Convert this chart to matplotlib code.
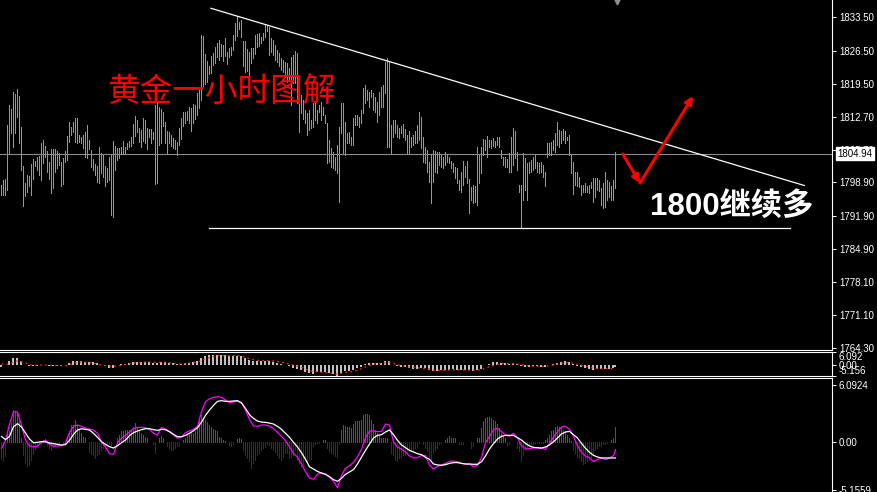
import numpy as np
import matplotlib
matplotlib.use('Agg')
import matplotlib.pyplot as plt
import matplotlib.transforms as mtransforms

plt.rcParams['font.family'] = ['Liberation Sans', 'Noto Sans CJK SC', 'DejaVu Sans']

# ---- price bars (1 hour gold), high / low per bar ----
bar_high = [
    1798.4, 1799.4, 1799.6, 1810.9, 1815.1, 1814.3, 1817.8, 1817.4, 1818.5, 1817.0,
    1810.5, 1802.4, 1798.8, 1800.5, 1800.3, 1802.8, 1803.8, 1803.4, 1804.2, 1804.4,
    1807.2, 1807.8, 1806.5, 1805.5, 1803.2, 1805.9, 1805.9, 1805.9, 1805.5, 1805.1,
    1803.2, 1804.0, 1805.5, 1808.6, 1811.6, 1810.5, 1811.6, 1812.4, 1812.4, 1808.8,
    1808.4, 1808.8, 1809.4, 1810.9, 1807.8, 1805.7, 1803.8, 1802.8, 1802.4, 1806.3,
    1805.1, 1804.9, 1802.4, 1801.9, 1804.2, 1804.9, 1807.6, 1806.5, 1806.1, 1806.1,
    1806.3, 1807.6, 1806.3, 1807.2, 1807.6, 1808.4, 1811.1, 1812.8, 1812.0, 1810.3,
    1809.9, 1812.4, 1812.0, 1810.3, 1810.1, 1810.1, 1809.4, 1815.1, 1815.5, 1814.7,
    1814.3, 1813.7, 1811.6, 1809.7, 1809.4, 1808.8, 1808.2, 1807.8, 1807.4, 1810.3,
    1812.4, 1813.7, 1813.7, 1813.9, 1814.7, 1814.5, 1815.3, 1815.1, 1817.6, 1818.3,
    1829.8, 1829.6, 1825.8, 1824.3, 1823.3, 1825.4, 1826.0, 1827.3, 1828.1, 1828.7,
    1827.9, 1827.7, 1829.2, 1826.2, 1827.1, 1827.3, 1829.8, 1832.3, 1833.8, 1832.5,
    1832.9, 1828.5, 1828.5, 1826.9, 1826.2, 1827.1, 1827.1, 1829.8, 1830.0, 1830.2,
    1829.4, 1830.2, 1832.1, 1831.9, 1831.5, 1829.2, 1828.7, 1827.7, 1826.6, 1826.0,
    1825.0, 1824.6, 1824.1, 1823.9, 1822.9, 1825.2, 1825.6, 1826.4, 1826.0, 1821.4,
    1817.2, 1816.2, 1814.1, 1813.4, 1814.1, 1812.0, 1815.5, 1815.5, 1814.1, 1815.1,
    1815.8, 1814.7, 1813.0, 1811.4, 1807.8, 1806.1, 1805.3, 1804.2, 1806.8, 1810.5,
    1815.5, 1815.5, 1811.6, 1809.3, 1809.4, 1808.4, 1812.4, 1813.0, 1813.0, 1812.6,
    1814.1, 1818.7, 1819.3, 1818.3, 1817.8, 1818.3, 1817.6, 1816.8, 1815.8, 1817.8,
    1818.9, 1819.3, 1824.1, 1825.0, 1824.1, 1810.9, 1812.0, 1812.0, 1810.9, 1810.3,
    1810.7, 1811.1, 1810.1, 1808.8, 1809.7, 1808.4, 1808.8, 1809.7, 1810.9, 1813.7,
    1812.6, 1808.4, 1806.3, 1805.7, 1803.2, 1804.7, 1805.7, 1805.5, 1805.3, 1805.3,
    1804.7, 1804.2, 1805.3, 1804.7, 1804.2, 1803.4, 1803.0, 1802.1, 1801.9, 1799.4,
    1801.1, 1803.4, 1802.4, 1803.4, 1799.6, 1798.0, 1798.4, 1798.2, 1806.3, 1804.7,
    1806.3, 1808.0, 1807.8, 1808.6, 1807.8, 1807.8, 1808.2, 1807.6, 1808.4, 1808.4,
    1805.7, 1804.2, 1804.2, 1803.8, 1805.1, 1808.4, 1810.3, 1809.7, 1805.3, 1798.4,
    1798.4, 1805.1, 1804.0, 1803.0, 1803.2, 1803.6, 1804.2, 1804.7, 1803.2, 1803.0,
    1803.2, 1802.6, 1801.1, 1807.2, 1807.2, 1807.4, 1807.8, 1809.3, 1811.6, 1809.9,
    1809.7, 1810.1, 1809.7, 1808.4, 1808.8, 1804.7, 1803.2, 1801.1, 1801.1, 1800.0,
    1798.4, 1798.4, 1798.8, 1798.2, 1798.4, 1799.0, 1799.8, 1799.8, 1799.8, 1799.4,
    1797.7, 1798.8, 1801.1, 1799.4, 1799.0, 1798.2, 1799.4, 1805.3,
]
bar_low = [
    1796.3, 1796.3, 1796.3, 1797.3, 1805.1, 1809.3, 1806.3, 1809.3, 1812.6, 1807.2,
    1801.5, 1794.0, 1796.1, 1796.9, 1798.2, 1796.3, 1799.6, 1802.4, 1801.5, 1800.5,
    1799.4, 1803.0, 1804.2, 1801.1, 1799.6, 1796.7, 1797.7, 1801.1, 1801.9, 1802.6,
    1798.2, 1798.6, 1803.2, 1803.6, 1807.4, 1808.8, 1809.4, 1807.4, 1807.2, 1807.4,
    1807.2, 1806.1, 1804.2, 1804.0, 1805.9, 1802.1, 1801.5, 1800.5, 1799.0, 1798.8,
    1800.9, 1800.0, 1798.2, 1799.0, 1799.4, 1792.1, 1791.7, 1801.5, 1803.6, 1804.0,
    1804.9, 1805.1, 1805.1, 1805.9, 1806.3, 1806.5, 1807.2, 1808.6, 1809.4, 1807.4,
    1806.3, 1807.6, 1807.2, 1805.9, 1808.4, 1807.2, 1808.0, 1798.6, 1798.8, 1806.8,
    1807.2, 1810.7, 1807.2, 1805.1, 1807.2, 1806.5, 1806.1, 1805.9, 1804.7, 1806.8,
    1808.0, 1810.7, 1811.4, 1812.0, 1811.4, 1809.7, 1811.4, 1812.2, 1813.0, 1814.5,
    1816.2, 1819.1, 1819.5, 1819.9, 1821.6, 1821.8, 1823.5, 1823.9, 1825.2, 1824.6,
    1825.4, 1824.3, 1825.4, 1823.7, 1825.2, 1825.6, 1826.6, 1828.7, 1829.6, 1831.0,
    1829.4, 1823.3, 1822.0, 1822.2, 1820.4, 1823.9, 1825.0, 1825.8, 1827.3, 1827.5,
    1828.1, 1828.7, 1829.4, 1830.6, 1825.6, 1826.2, 1825.6, 1824.6, 1824.1, 1823.3,
    1822.5, 1822.0, 1821.0, 1819.9, 1820.4, 1815.1, 1819.7, 1819.7, 1815.5, 1809.4,
    1813.4, 1812.2, 1811.4, 1808.8, 1809.9, 1810.3, 1810.5, 1812.0, 1811.4, 1813.7,
    1812.0, 1813.0, 1811.4, 1803.0, 1803.2, 1802.1, 1801.9, 1801.5, 1800.9, 1794.8,
    1809.3, 1805.1, 1804.7, 1807.2, 1807.2, 1806.8, 1806.8, 1810.9, 1810.9, 1810.5,
    1811.4, 1813.4, 1815.5, 1816.2, 1814.7, 1816.8, 1814.1, 1813.7, 1811.6, 1813.0,
    1814.7, 1814.7, 1817.6, 1806.3, 1806.3, 1805.1, 1808.4, 1809.3, 1808.4, 1808.2,
    1809.3, 1808.4, 1807.8, 1805.1, 1805.1, 1806.3, 1806.8, 1807.2, 1807.2, 1807.8,
    1806.1, 1803.2, 1803.0, 1801.1, 1799.0, 1794.6, 1799.0, 1801.1, 1800.9, 1802.6,
    1802.1, 1801.9, 1802.6, 1803.2, 1803.0, 1801.9, 1801.1, 1799.8, 1798.8, 1797.3,
    1796.9, 1798.4, 1800.0, 1798.8, 1792.5, 1795.2, 1794.6, 1794.8, 1794.2, 1798.8,
    1800.9, 1804.7, 1805.7, 1804.2, 1806.3, 1806.1, 1806.5, 1806.3, 1806.8, 1806.3,
    1804.0, 1802.6, 1802.1, 1802.1, 1801.1, 1801.1, 1802.6, 1804.0, 1801.5, 1796.9,
    1789.6, 1795.2, 1797.3, 1795.2, 1800.9, 1801.1, 1801.5, 1801.9, 1801.1, 1800.9,
    1801.1, 1800.0, 1798.2, 1804.2, 1804.7, 1804.7, 1805.7, 1805.3, 1806.8, 1806.3,
    1807.2, 1807.8, 1807.2, 1807.8, 1804.7, 1800.9, 1796.5, 1798.4, 1798.2, 1798.0,
    1796.3, 1796.9, 1796.9, 1796.9, 1796.7, 1797.7, 1794.8, 1795.9, 1797.3, 1797.1,
    1794.2, 1793.6, 1793.8, 1795.2, 1795.9, 1795.2, 1795.2, 1797.7,
]
last_price = 1804.94

# ---- indicator window: histogram per bar ----
osma = [
    -1.9, -2.1, -1.5, 0.8, 1.2, 2.0, 3.4, 3.3, 3.1, 2.2,
    0.4, -1.4, -2.3, -2.6, -2.5, -2.0, -1.3, -0.9, -0.5, -0.3,
    -0.2, 0.2, 0.25, -0.35, -0.7, -0.9, -0.6, -0.4, -0.2, -0.25,
    0.0, -0.15, -0.15, 0.5, 1.2, 1.8, 1.8, 2.3, 1.8, 1.4,
    0.9, 0.5, 0.4, 0.0, -1.1, -1.3, -1.4, -1.8, -1.4, -1.3,
    -0.9, -0.7, -0.9, -0.5, -0.2, -0.4, 0.0, 0.0, 0.35, 0.7,
    1.1, 1.2, 1.25, 1.25, 1.25, 1.3, 1.6, 2.0, 1.45, 1.25,
    0.9, 0.7, 0.5, 0.35, 0.0, 0.0, -0.2, -1.25, 0.0, 0.35,
    0.6, 0.35, 0.0, -0.5, -0.7, -0.9, -0.9, -0.7, -0.5, -0.45,
    0.0, 0.2, 0.45, 0.7, 0.8, 0.9, 0.95, 1.1, 1.5, 2.3,
    2.9, 2.4, 2.3, 2.15, 1.8, 1.6, 1.4, 1.25, 1.1, 0.55,
    0.35, 0.2, 0.1, 0.0, -0.35, -0.5, -0.2, 0.0, 0.25, 0.35,
    0.3, -0.9, -1.4, -1.8, -2.1, -2.8, -2.3, -2.0, -1.4, -1.25,
    -0.9, -0.7, -0.55, -0.2, -0.35, -0.7, -0.9, -1.1, -1.4, -1.8,
    -2.0, -1.6, -1.25, -1.25, -1.8, -1.6, -1.4, -0.9, -2.0, -2.3,
    -2.7, -2.5, -2.0, -2.15, -2.0, -1.9, -0.5, -0.3, -0.15, -0.15,
    0.0, 0.2, 0.2, -0.7, -1.0, -1.2, -1.3, -1.5, -1.6, -0.3,
    1.3, 1.75, 1.65, 1.55, 1.55, 1.45, 1.9, 2.2, 2.25, 2.2,
    2.35, 2.85, 3.0, 3.0, 2.85, 2.35, 1.9, 1.3, 0.95, 0.7,
    0.45, 0.4, 0.35, 0.45, 0.0, -1.2, -1.45, -1.95, -2.05, -1.75,
    -1.6, -1.4, -1.4, -1.2, -1.05, -0.85, -0.95, -0.7, -0.6, -0.15,
    0.0, -0.3, -0.7, -1.05, -1.6, -2.1, -1.2, -0.85, -0.7, -0.3,
    -0.15, 0.0, 0.2, 0.4, 0.6, 0.45, 0.4, 0.35, 0.0, -0.3,
    -0.3, -0.25, 0.0, 0.0, 0.0, -0.7, -0.5, 0.0, 0.35, 0.45,
    1.45, 2.25, 2.55, 2.7, 2.7, 2.55, 2.35, 2.2, 1.85, 1.45,
    0.95, 0.6, 0.4, -0.5, -0.3, 0.0, 0.0, 0.0, -0.7, -1.05,
    -2.1, -1.4, -0.85, -0.7, -0.5, -0.3, -0.25, -0.15, -0.15, -0.15,
    -0.15, -0.15, 0.2, 0.45, 0.75, 1.1, 1.3, 1.55, 1.65, 1.55,
    1.45, 1.3, 1.1, 0.75, 0.4, 0.1, -0.85, -1.2, -1.6, -1.75,
    -2.1, -2.4, -2.3, -2.1, -1.95, -1.6, -1.2, -0.85, -0.7, -0.5,
    -0.5, -0.3, -0.25, -0.15, 0.0, 0.2, 0.4, 1.55,
]

# ---- MACD main (magenta) and signal (white), read every second bar + last bar ----
line_bars = list(range(0, 308, 2)) + [307]
macd_main = [
    -0.72, 0.13, 1.88, 3.23, 3.2, 1.79, 0.18, -0.47, -0.54, -0.47,
    -0.04, 0.14, -0.29, -0.5, -0.47, -0.43, -0.14, 1.0, 1.68, 1.79,
    1.65, 1.47, 1.33, 1.25, 0.9, -0.04, -0.57, -1.29, -1.36, -0.14,
    0.39, 0.68, 1.04, 1.4, 1.54, 1.54, 1.5, 1.33, 0.9, 0.72,
    1.54, 1.36, 1.08, 0.72, 0.36, 0.5, 0.97, 1.15, 1.33, 1.65,
    3.23, 4.3, 4.62, 4.77, 4.84, 4.77, 4.48, 4.16, 4.3, 4.37,
    4.23, 3.37, 2.4, 1.68, 1.65, 1.79, 1.79, 1.68, 1.4, 1.0,
    0.57, 0.11, -0.54, -1.25, -1.68, -2.4, -3.23, -3.9, -4.05, -3.5,
    -3.37, -3.47, -3.83, -4.26, -4.95, -3.62, -2.86, -2.58, -2.22, -1.61,
    -0.82, 0.43, 1.15, 1.15, 1.08, 1.11, 1.9, 1.8, -0.03, -0.57,
    -0.82, -1.11, -1.54, -1.75, -1.72, -1.47, -1.5, -2.5, -2.94, -2.65,
    -2.5, -2.33, -2.11, -2.08, -2.15, -2.36, -2.4, -2.4, -2.68, -2.54,
    -1.68, -0.1, 0.58, 1.29, 1.44, 1.08, 0.72, 0.58, 0.9, 0.4,
    -0.43, -0.78, -0.75, -0.68, -0.68, -0.71, -0.82, -0.18, 0.5, 1.08,
    1.58, 1.65, 1.33, 0.58, -0.46, -1.11, -1.57, -1.72, -2.15, -1.9,
    -1.75, -1.93, -1.75, -1.5, -0.86,
]
macd_signal = [
    0.57, 0.22, 0.57, 1.61, 1.94, 1.58, 0.93, 0.29, -0.11, -0.07,
    0.0, 0.0, -0.14, -0.22, -0.29, -0.36, -0.32, 0.14, 0.79, 1.25,
    1.4, 1.33, 1.25, 0.9, 0.47, 0.0, -0.29, -0.54, -0.68, -0.43,
    -0.11, 0.18, 0.65, 0.97, 1.15, 1.29, 1.4, 1.4, 1.29, 1.22,
    1.33, 1.29, 1.08, 0.79, 0.54, 0.54, 0.68, 0.9, 1.18, 1.5,
    2.11, 2.83, 3.4, 3.9, 4.34, 4.41, 4.34, 4.34, 4.37, 4.41,
    4.16, 3.58, 2.9, 2.51, 2.22, 2.11, 2.08, 2.0, 1.9, 1.65,
    1.33, 0.9, 0.47, -0.07, -0.57, -1.18, -1.9, -2.7, -2.94, -3.2,
    -3.37, -3.51, -3.76, -4.08, -4.26, -3.94, -3.51, -3.26, -3.0, -2.4,
    -1.65, -0.93, -0.25, 0.4, 0.68, 0.76, 1.04, 1.26, 0.76, 0.15,
    -0.35, -0.64, -0.93, -1.11, -1.29, -1.39, -1.68, -1.9, -2.4, -2.5,
    -2.54, -2.47, -2.33, -2.25, -2.25, -2.33, -2.4, -2.4, -2.43, -2.43,
    -2.15, -1.54, -0.78, -0.21, 0.29, 0.58, 0.68, 0.68, 0.68, 0.43,
    0.18, -0.18, -0.46, -0.61, -0.64, -0.68, -0.57, -0.35, 0.0, 0.4,
    0.83, 1.04, 1.11, 0.76, 0.4, -0.18, -0.71, -1.14, -1.47, -1.65,
    -1.75, -1.75, -1.75, -1.75, -1.75,
]

# ---- drawn objects: (bar, price) anchors ----
trend_down = [(104.75, 1835.38), (401.4, 1798.27)]
support = [(103.85, 1789.43), (394.35, 1789.43)]
arrow_pts = [(310.6, 1804.87), (319.25, 1798.79), (345.75, 1817.01)]

main_ticks = [1833.50, 1826.50, 1819.50, 1812.70, 1805.70, 1798.90,
              1791.90, 1784.90, 1778.10, 1771.10, 1764.30]

W, H = 878, 492
fig = plt.figure(figsize=(W / 100, H / 100), dpi=100, facecolor='black')
ax_main = fig.add_axes([0, 142 / H, 832 / W, 350 / H])
ax_mini = fig.add_axes([0, 116 / H, 832 / W, 24 / H])
ax_low = fig.add_axes([0, 0, 832 / W, 114 / H])

for ax in (ax_main, ax_mini, ax_low):
    ax.set_facecolor('black')
    ax.set_xlim(-0.75, 415.25)
    ax.set_xticks([])
    ax.spines['left'].set_visible(False)
    for s in ('top', 'bottom', 'right'):
        ax.spines[s].set_color('white')
        ax.spines[s].set_linewidth(0.8)
    ax.yaxis.tick_right()
    ax.tick_params(axis='y', colors='white', length=3, width=0.7, labelsize=7, pad=2)
ax_main.spines['top'].set_visible(False)
ax_low.spines['bottom'].set_visible(False)

bars = np.arange(len(bar_high))

# main window
ax_main.set_ylim(1763.82, 1837.12)
ax_main.vlines(bars, bar_low, bar_high, colors='#3cdc28', linewidth=0.45, antialiased=False)
ax_main.axhline(last_price, color='#8c8c8c', linewidth=0.8)
ax_main.plot(*zip(*trend_down), color='white', linewidth=0.9)
ax_main.plot(*zip(*support), color='white', linewidth=0.9)
ax_main.set_yticks(main_ticks)
ax_main.set_yticklabels(['%.2f' % t for t in main_ticks])

for a, b in zip(arrow_pts[:-1], arrow_pts[1:]):
    ax_main.annotate('', xy=b, xytext=a,
                     arrowprops=dict(arrowstyle='-|>', color='#ff0000', lw=2.2,
                                     mutation_scale=11, shrinkA=0, shrinkB=0))

ax_main.text(52.75, 1817.6, '黄金一小时图解', color='#ff0000', fontsize=23.5,
             family=['Noto Sans CJK SC'], va='center', ha='left', zorder=5)
ax_main.text(324.25, 1793.87, '1800继续多', color='white', fontsize=22.5, fontweight='bold',
             family=['Liberation Sans', 'Noto Sans CJK SC'], va='center', ha='left', zorder=5)

trans = mtransforms.blended_transform_factory(ax_main.transAxes, ax_main.transData)
ax_main.text(1.0065, last_price, '%.2f' % last_price, transform=trans, color='black',
             fontsize=7, va='center', ha='left', zorder=10,
             bbox=dict(boxstyle='square,pad=0.12', fc='white', ec='white'))
ax_main.plot([307.75], [1836.7], marker='v', color='#909090', markersize=3.5, clip_on=False)

# small MACD window
ax_mini.set_ylim(-5.156, 6.092)
ax_mini.bar(line_bars, macd_main, width=1.0, color='#c0c0c0', linewidth=0)
ax_mini.plot(line_bars, macd_signal, color='#ff2020', linewidth=0.9, linestyle=(0, (1.5, 2.5)))
ax_mini.set_yticks([6.092, 0, -5.156])
labs = ax_mini.set_yticklabels(['6.092', '0.00', '-5.156'])
labs[0].set_va('top')
labs[2].set_va('bottom')

# lower indicator window
ax_low.set_ylim(-5.41, 6.85)
osma_arr = np.array(osma)
ax_low.vlines(bars, 0, osma_arr, colors=np.where(osma_arr >= 0, '#dd1a1a', '#1a1add'),
              linewidth=0.45, antialiased=False)
ax_low.plot(line_bars, macd_main, color='#ff00ff', linewidth=0.9)
ax_low.plot(line_bars, macd_signal, color='white', linewidth=0.9)
ax_low.set_yticks([6.0924, 0, -5.1559])
ax_low.set_yticklabels(['6.0924', '0.00', '-5.1559'])

fig.savefig('out.png', dpi=100, facecolor='black')
